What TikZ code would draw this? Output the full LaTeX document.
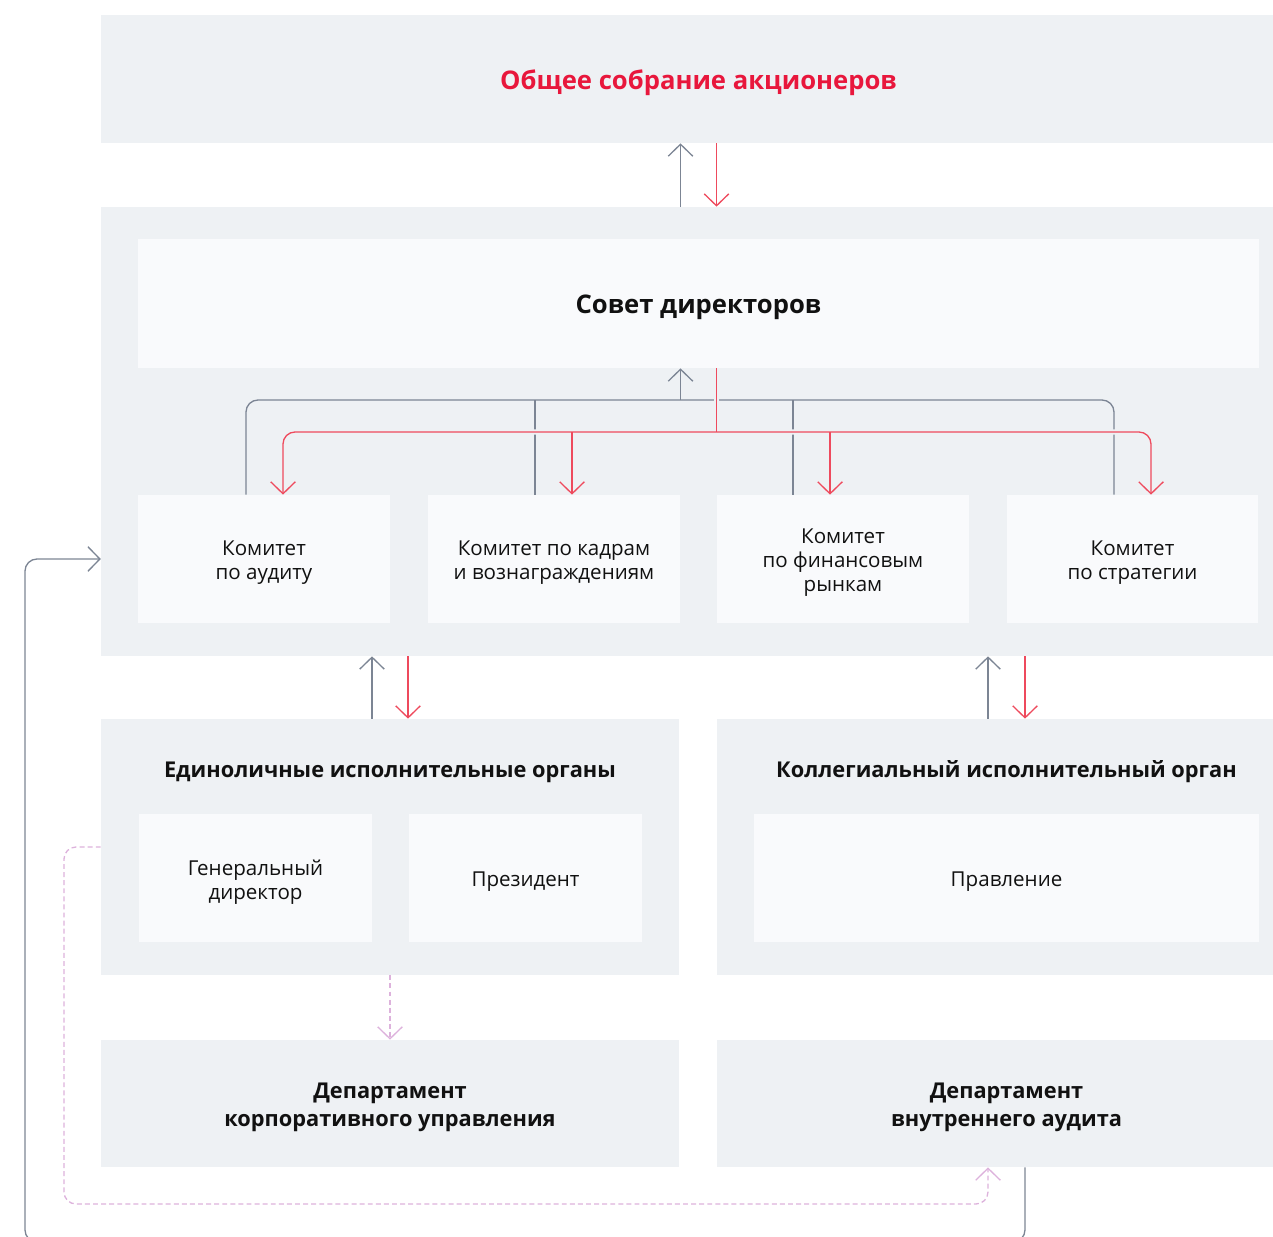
\documentclass[tikz,border=0pt]{standalone}
\usepackage{fontspec}
\setmainfont{Open Sans}
\usetikzlibrary{calc}
\usetikzlibrary{arrows.meta}

\definecolor{panelbg}{HTML}{EEF1F4}
\definecolor{cardbg}{HTML}{F9FAFC}
\definecolor{lineg}{HTML}{7C8594}
\definecolor{liner}{HTML}{EE4A5D}
\definecolor{linep}{HTML}{DDB2DC}
\definecolor{titler}{HTML}{E8173C}
\definecolor{ink}{HTML}{111111}

\tikzset{
  panel/.style={fill=panelbg, inner sep=0pt},
  card/.style={fill=cardbg, inner sep=0pt},
  txt/.style={text=ink, align=center, inner sep=0pt, font=\fontsize{11.7}{13.6}\selectfont},
  head/.style={text=ink, align=center, inner sep=0pt, font=\fontsize{12.4}{15.9}\selectfont\bfseries},
  bighead/.style={head, font=\fontsize{14.6}{17}\selectfont\bfseries},
  barb/.style={-{Straight Barb[length=6.8pt,width=14pt]}},
  gline/.style={draw=lineg, line width=0.75pt},
  rline/.style={draw=liner, line width=0.75pt},
  pline/.style={draw=linep, line width=0.75pt, dash pattern=on 2.8pt off 1.8pt},
  halo/.style={preaction={draw=panelbg, line width=3pt, arrows=-}}
}

\begin{document}
\begin{tikzpicture}[x=0.02cm, y=-0.02cm]
\useasboundingbox (0,0) rectangle (1273,1236);
\clip (0,0) rectangle (1273,1236);

% boxes
\node[panel, minimum width=23.9cm, minimum height=2.56cm] (gm) at (698.5,79) {};
\node[panel, minimum width=23.9cm, minimum height=8.98cm] (board) at (698.5,431.5) {};
\node[card, minimum width=22.42cm, minimum height=2.58cm] (bod) at (698.5,303.5) {};
\node[card, minimum width=5.04cm, minimum height=2.56cm] (com1) at (264,559) {};
\node[card, minimum width=5.04cm, minimum height=2.56cm] (com2) at (554,559) {};
\node[card, minimum width=5.04cm, minimum height=2.56cm] (com3) at (843,559) {};
\node[card, minimum width=5.04cm, minimum height=2.56cm] (com4) at (1132.5,559) {};
\node[panel, minimum width=11.56cm, minimum height=5.12cm] (execL) at (390,847) {};
\node[card, minimum width=4.66cm, minimum height=2.56cm] (gd) at (255.5,878) {};
\node[card, minimum width=4.66cm, minimum height=2.56cm] (pres) at (525.5,878) {};
\node[panel, minimum width=11.58cm, minimum height=5.12cm] (execR) at (1006.5,847) {};
\node[card, minimum width=10.1cm, minimum height=2.56cm] (prav) at (1006.5,878) {};
\node[panel, minimum width=11.56cm, minimum height=2.54cm] (deptL) at (390,1103.5) {};
\node[panel, minimum width=11.58cm, minimum height=2.54cm] (deptR) at (1006.5,1103.5) {};

% texts
\node[bighead, text=titler] (gmt) at ($(gm)+(0,4)$) {Общее собрание акционеров};
\node[bighead] (bodt) at ($(bod)+(0,4)$) {Совет директоров};
\node[txt] (com1t) at ($(com1)+(0,4)$) {Комитет\\по аудиту};
\node[txt] (com2t) at ($(com2)+(0,4)$) {Комитет по кадрам\\и вознаграждениям};
\node[txt] (com3t) at ($(com3)+(0,4)$) {Комитет\\по финансовым\\рынкам};
\node[txt] (com4t) at ($(com4)+(0,4)$) {Комитет\\по стратегии};
\node[head] (execLt) at (390,772) {Единоличные исполнительные органы};
\node[txt] (gdt) at ($(gd)+(0,4)$) {Генеральный\\директор};
\node[txt] (prest) at ($(pres)+(0,4)$) {Президент};
\node[head] (execRt) at (1006.5,772) {Коллегиальный исполнительный орган};
\node[txt] (pravt) at ($(prav)+(0,4)$) {Правление};
\node[head] (deptLt) at ($(deptL)+(0,4)$) {Департамент\\корпоративного управления};
\node[head] (deptRt) at ($(deptR)+(0,4)$) {Департамент\\внутреннего аудита};

% feet of the connectors
\coordinate (hg) at (0,400);
\coordinate (hr) at (0,432);
\coordinate (g1) at ($(gm.south)+(-18,0)$);
\coordinate (r1) at ($(gm.south)+(18,0)$);
\coordinate (bg) at ($(bod.south)+(-18,0)$);
\coordinate (br) at ($(bod.south)+(18,0)$);
\coordinate (c1g) at ($(com1.north)+(-18,0)$);
\coordinate (c1r) at ($(com1.north)+(19,0)$);
\coordinate (c2g) at ($(com2.north)+(-19,0)$);
\coordinate (c2r) at ($(com2.north)+(18,0)$);
\coordinate (c3g) at ($(com3.north)+(-50,0)$);
\coordinate (c3r) at ($(com3.north)+(-13,0)$);
\coordinate (c4g) at ($(com4.north)+(-18.5,0)$);
\coordinate (c4r) at ($(com4.north)+(18.5,0)$);
\coordinate (eLg) at ($(execL.north)+(-18,0)$);
\coordinate (eLr) at ($(execL.north)+(18,0)$);
\coordinate (eRg) at ($(execR.north)+(-18.5,0)$);
\coordinate (eRr) at ($(execR.north)+(18.5,0)$);
\coordinate (dRg) at ($(deptR.south)+(-18.5,0)$);
\coordinate (dRr) at ($(deptR.south)+(18.5,0)$);

\draw[gline, barb] (g1 |- board.north) -- (g1);
\draw[rline, barb] (r1) -- (r1 |- board.north);

% committees
\draw[gline, rounded corners=0.24cm] (c1g) -- (c1g |- hg) -- (c4g |- hg) -- (c4g);
\draw[gline] (c2g) -- (c2g |- hg);
\draw[gline] (c3g) -- (c3g |- hg);
\draw[gline, barb] (bg |- hg) -- (bg);
\draw[rline, halo, {Straight Barb[length=6.8pt,width=14pt]}-{Straight Barb[length=6.8pt,width=14pt]}, rounded corners=0.24cm]
  (c1r) -- (c1r |- hr) -- (c4r |- hr) -- (c4r);
\draw[rline, barb] (c2r |- hr) -- (c2r);
\draw[rline, barb] (c3r |- hr) -- (c3r);
\draw[rline, preaction={draw=panelbg, line width=3pt, shorten >=2pt}] (br) -- (br |- hr);

% executive bodies
\draw[gline, barb] (eLg) -- (eLg |- board.south);
\draw[rline, barb] (eLr |- board.south) -- (eLr);
\draw[gline, barb] (eRg) -- (eRg |- board.south);
\draw[rline, barb] (eRr |- board.south) -- (eRr);

% departments
\draw[pline, barb] (execL.south) -- (deptL.north);
\draw[pline, barb, rounded corners=0.24cm] (execL.west) -| (64,1204) -| (dRg);
\draw[gline, barb, rounded corners=0.24cm] (dRr) |- (25,1242) |- (board.west |- com1);

\end{tikzpicture}
\end{document}
